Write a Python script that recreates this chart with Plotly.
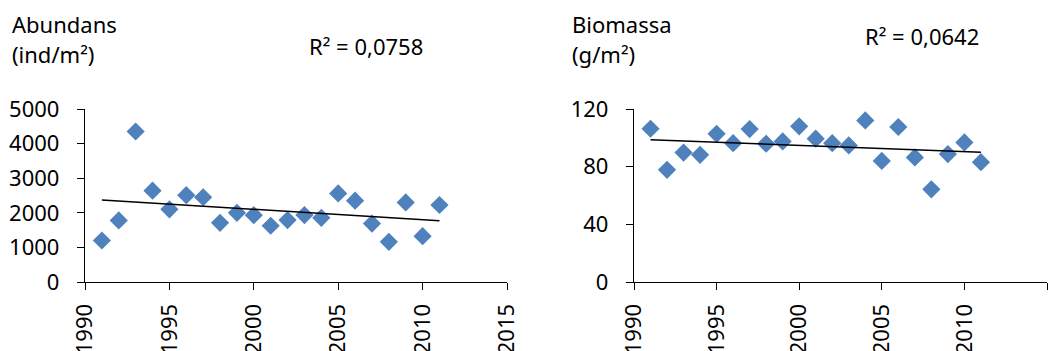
import numpy as np
import plotly.graph_objects as go

years = list(range(1991, 2012))
abundans = [1200, 1780, 4350, 2640, 2100, 2510, 2450, 1710, 2000, 1930, 1625,
            1790, 1935, 1855, 2560, 2350, 1690, 1160, 2300, 1325, 2225]
biomassa = [106.3, 77.8, 89.8, 88.2, 102.8, 96.3, 106.1, 95.9, 97.5, 108.0, 99.4,
            96.3, 94.7, 112.1, 84.0, 107.5, 86.4, 64.3, 88.7, 96.8, 83.1]
r2_labels = ["R² = 0,0758", "R² = 0,0642"]
titles = [("Abundans", "(ind/m²)"), ("Biomassa", "(g/m²)")]

W, H = 1049, 351
FONT = "Noto Sans"
FS = 22
BLUE = "#4F81BD"

def px(x):
    return x / W

def py(y):
    return 1 - y / H

fig = go.Figure()

def trend(xs, ys):
    k, b = np.polyfit(xs, ys, 1)
    xe = [xs[0], xs[-1]]
    return xe, [k * v + b for v in xe]

for i, (vals, xa, ya) in enumerate([(abundans, "x", "y"), (biomassa, "x2", "y2")]):
    fig.add_trace(go.Scatter(x=years, y=vals, mode="markers", xaxis=xa, yaxis=ya,
                             marker=dict(symbol="diamond", size=14, color=BLUE,
                                         line=dict(width=0)),
                             showlegend=False))
    tx, ty = trend(years, vals)
    fig.add_trace(go.Scatter(x=tx, y=ty, mode="lines", xaxis=xa, yaxis=ya,
                             line=dict(color="black", width=1.5),
                             showlegend=False))

ydom = [py(282), py(109)]
axcommon = dict(showline=True, linecolor="black", linewidth=1.3, ticks="outside",
                ticklen=7, tickcolor="black", tickwidth=1.3, showgrid=False,
                zeroline=False, automargin=False,
                tickfont=dict(family=FONT, size=FS, color="black"))
xextra = dict(tickangle=-90, ticklabelstandoff=5)
yextra = dict(ticklabelstandoff=13)

fig.update_layout(
    width=W, height=H, margin=dict(l=0, r=0, t=0, b=0),
    paper_bgcolor="white", plot_bgcolor="white",
    font=dict(family=FONT, size=FS, color="black"),
    xaxis=dict(domain=[px(85), px(507)], range=[1990, 2015], dtick=5,
               anchor="y", **axcommon, **xextra),
    yaxis=dict(domain=ydom, range=[0, 5000], dtick=1000, anchor="x", **axcommon, **yextra),
    xaxis2=dict(domain=[px(634), px(1047)], range=[1990, 2015], dtick=5,
                anchor="y2", **axcommon, **xextra),
    yaxis2=dict(domain=ydom, range=[0, 120], dtick=40, anchor="x2", **axcommon, **yextra),
)

ann = []
for (t1, t2), x0 in zip(titles, [10, 570]):
    ann.append(dict(text=t1, x=px(x0), y=py(24), xanchor="left", yanchor="middle"))
    ann.append(dict(text=t2, x=px(x0), y=py(54), xanchor="left", yanchor="middle"))
for lab, x0, yc in zip(r2_labels, [307, 863], [46, 36]):
    ann.append(dict(text=lab, x=px(x0), y=py(yc), xanchor="left", yanchor="middle"))
for a in ann:
    a.update(xref="paper", yref="paper", showarrow=False,
             font=dict(family=FONT, size=FS, color="black"))
fig.update_layout(annotations=ann)

fig.write_html("out.html", config={"displayModeBar": False},
               post_script="document.body.style.margin='0';document.body.style.overflow='hidden';")
